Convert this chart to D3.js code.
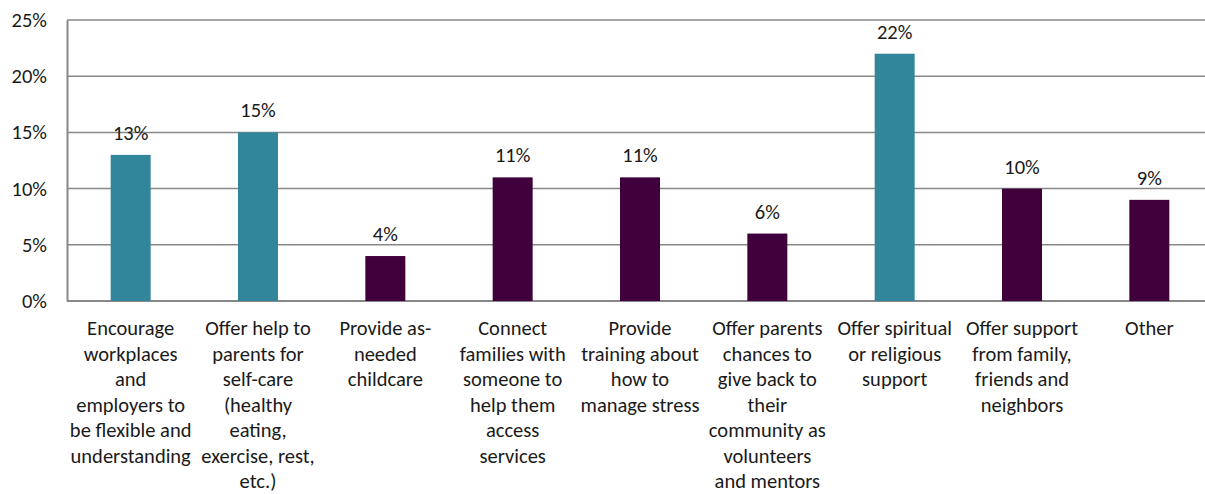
<!DOCTYPE html>
<html>
<head>
<meta charset="utf-8">
<script src="https://cdn.jsdelivr.net/npm/d3@7"></script>
<style>
  body { margin: 0; background: #fff; }
  svg text { font-family: Carlito, Calibri, Lato, sans-serif; fill: #1a1a1a; }
</style>
</head>
<body>
<div id="chart"></div>
<script>
// category labels, already split into lines like in the picture
var categories = [
  ["Encourage", "workplaces", "and", "employers to", "be flexible and", "understanding"],
  ["Offer help to", "parents for", "self-care", "(healthy", "eating,", "exercise, rest,", "etc.)"],
  ["Provide as-", "needed", "childcare"],
  ["Connect", "families with", "someone to", "help them", "access", "services"],
  ["Provide", "training about", "how to", "manage stress"],
  ["Offer parents", "chances to", "give back to", "their", "community as", "volunteers", "and mentors"],
  ["Offer spiritual", "or religious", "support"],
  ["Offer support", "from family,", "friends and", "neighbors"],
  ["Other"]
];
var values = [13, 15, 4, 11, 11, 6, 22, 10, 9];
var highlighted = [true, true, false, false, false, false, true, false, false];
var yTicks = [0, 5, 10, 15, 20, 25];

var teal = "#31869b", purple = "#3f003c", grid = "#888888";
var fontSize = "20.5px";

var margin = {top: 20, right: -8, bottom: 193, left: 67},
    width = 1205 - margin.left - margin.right,
    height = 494 - margin.top - margin.bottom;

var svg = d3.select("#chart")
  .append("svg")
    .attr("width", 1205)
    .attr("height", 494)
  .append("g")
    .attr("transform", "translate(" + margin.left + "," + margin.top + ")");

var x = d3.scaleBand()
  .domain(d3.range(categories.length))
  .range([0, width])
  .paddingInner(0.686)
  .paddingOuter(0.343);

var y = d3.scaleLinear()
  .domain([0, 25])
  .range([height, 0]);

// gridlines
svg.append("g")
  .selectAll("line")
  .data(yTicks)
  .join("line")
    .attr("x1", 0)
    .attr("x2", width)
    .attr("y1", function(d) { return y(d); })
    .attr("y2", function(d) { return y(d); })
    .attr("stroke", grid)
    .attr("stroke-width", function(d) { return d === 0 ? 2 : 1.5; });

// left axis
var yAxis = svg.append("g")
  .call(d3.axisLeft(y).tickValues(yTicks).tickSize(0).tickPadding(20)
    .tickFormat(function(d) { return d + "%"; }));
yAxis.select(".domain").attr("stroke", grid).attr("stroke-width", 2);
yAxis.selectAll("text").style("font-size", fontSize).attr("fill", "#1a1a1a");

// bars
svg.selectAll(".bar")
  .data(values)
  .join("rect")
    .attr("class", "bar")
    .attr("x", function(d, i) { return x(i); })
    .attr("width", x.bandwidth())
    .attr("y", function(d) { return y(d); })
    .attr("height", function(d) { return height - y(d); })
    .attr("fill", function(d, i) { return highlighted[i] ? teal : purple; });

// value labels
svg.selectAll(".val")
  .data(values)
  .join("text")
    .attr("class", "val")
    .attr("x", function(d, i) { return x(i) + x.bandwidth() / 2; })
    .attr("y", function(d) { return y(d) - 15; })
    .attr("text-anchor", "middle")
    .style("font-size", fontSize)
    .text(function(d) { return d + "%"; });

// category labels
var labels = svg.selectAll(".cat")
  .data(categories)
  .join("text")
    .attr("class", "cat")
    .attr("text-anchor", "middle")
    .attr("transform", function(d, i) {
      return "translate(" + (x(i) + x.bandwidth() / 2) + "," + (height + 34) + ")";
    })
    .style("font-size", fontSize);

labels.selectAll("tspan")
  .data(function(d) { return d; })
  .join("tspan")
    .attr("x", 0)
    .attr("dy", function(d, j) { return j === 0 ? 0 : 25.5; })
    .text(function(d) { return d; });
</script>
</body>
</html>
